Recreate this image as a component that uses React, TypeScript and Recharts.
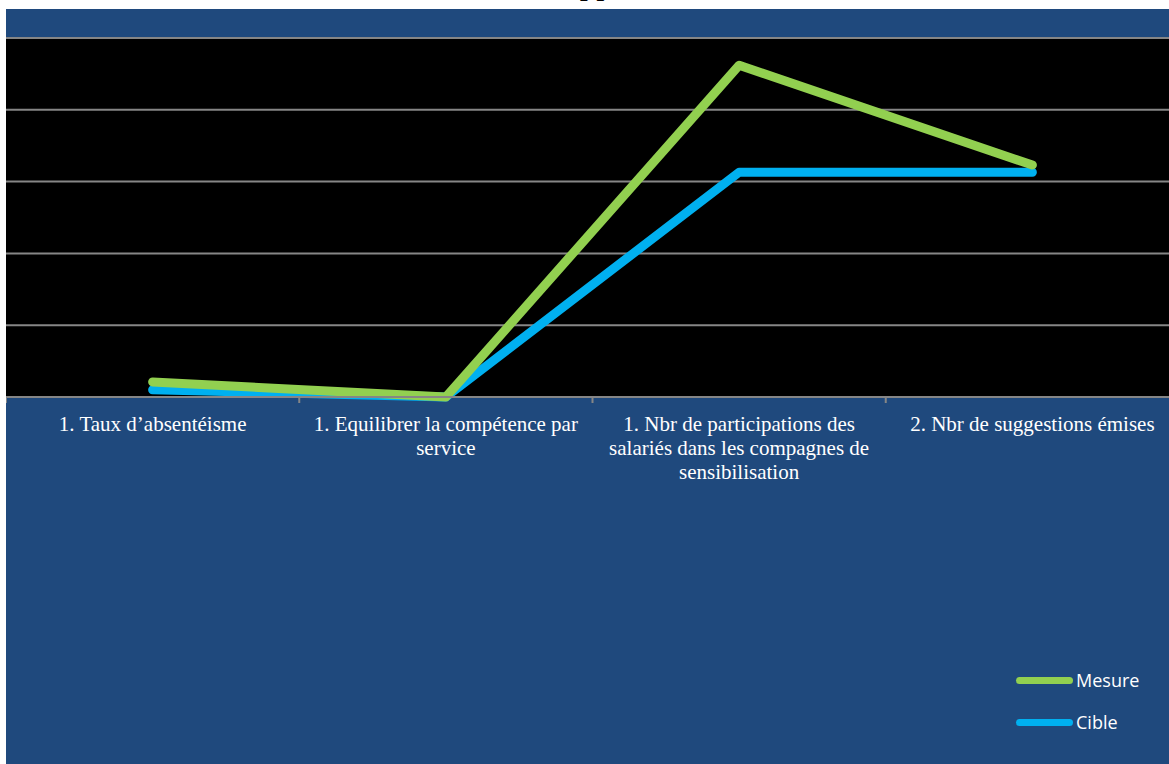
import { ComposedChart, Line, XAxis, YAxis, CartesianGrid } from 'recharts'

document.body.style.margin = '0'

const categories = [
    '1. Taux d\u2019absentéisme',
    '1. Equilibrer la compétence par service',
    '1. Nbr de participations des salariés dans les compagnes de sensibilisation',
    '2. Nbr de suggestions émises',
]
const mesure = [0.21, 0, 4.62, 3.23]
const cible = [0.1, 0, 3.13, 3.13]
const yTicks = [0, 1, 2, 3, 4, 5]

const data = categories.map((name, i) => ({ name, mesure: mesure[i], cible: cible[i] }))

const CHART_W = 1173
const BAND = CHART_W / categories.length
const LABEL_FONT = '21px "Liberation Serif"'

const series = [
    { key: 'mesure', label: 'Mesure', color: '#92D050' },
    { key: 'cible', label: 'Cible', color: '#00B0F0' },
]

// greedy word wrap measured on a canvas
const ctx = document.createElement('canvas').getContext('2d')!
function wrap(text: string, maxWidth: number) {
    ctx.font = LABEL_FONT
    const lines: string[] = []
    let cur = ''
    for (const w of text.split(' ')) {
        const next = cur ? cur + ' ' + w : w
        if (cur && ctx.measureText(next).width > maxWidth) {
            lines.push(cur)
            cur = w
        } else {
            cur = next
        }
    }
    if (cur) lines.push(cur)
    return lines
}

function CategoryTick({ x, y, payload }: any) {
    const lines = wrap(payload.value, 284)
    // y arrives below the default tick size + margin, pull marks back to the axis
    const axisY = y - 8
    return (
        <g>
            <line x1={x - BAND / 2} x2={x - BAND / 2} y1={axisY} y2={axisY + 6} stroke="#868686" strokeWidth={2} />
            <text
                x={x}
                textAnchor="middle"
                fill="#ffffff"
                fontFamily='"Liberation Serif", "Times New Roman", serif'
                fontSize={21}
            >
                {lines.map((l, i) => (
                    <tspan key={i} x={x} y={axisY + 34 + i * 24}>
                        {l}
                    </tspan>
                ))}
            </text>
        </g>
    )
}

function LegendBox() {
    return (
        <div
            style={{
                position: 'absolute',
                left: 1016,
                top: 659,
                fontFamily: '"Open Sans", sans-serif',
                fontSize: 18,
                color: '#ffffff',
            }}
        >
            {series.map((s) => (
                <div key={s.key} style={{ display: 'flex', alignItems: 'center', height: 42 }}>
                    <span style={{ display: 'inline-block', width: 57, height: 7, borderRadius: 4, background: s.color, marginRight: 3 }} />
                    <span>{s.label}</span>
                </div>
            ))}
        </div>
    )
}

export default function App() {
    return (
        <div style={{ position: 'relative', width: 1169, height: 764, overflow: 'hidden', background: '#ffffff' }}>
            <svg width={1169} height={9} style={{ position: 'absolute', left: 0, top: 0 }}>
                <text x={543} y={-6} fontFamily='"Liberation Serif", serif' fontSize={33} fill="#000">
                    Rapport
                </text>
            </svg>
            <div style={{ position: 'absolute', left: 6, top: 9, width: 1180, height: 755, background: '#1F497D' }}>
                <ComposedChart width={CHART_W} height={755} data={data} margin={{ top: 29, right: 0, bottom: 0, left: 0 }}>
                    <CartesianGrid vertical={false} fill="#000000" stroke="#868686" strokeWidth={2} />
                    <XAxis
                        dataKey="name"
                        height={367}
                        interval={0}
                        padding={{ left: BAND / 2, right: BAND / 2 }}
                        axisLine={{ stroke: '#868686', strokeWidth: 2 }}
                        tickLine={false}
                        tick={<CategoryTick />}
                    />
                    <YAxis hide domain={[0, 5]} ticks={yTicks} />
                    <Line
                        dataKey="cible"
                        stroke="#00B0F0"
                        strokeWidth={9}
                        strokeLinecap="round"
                        strokeLinejoin="round"
                        dot={false}
                        activeDot={false}
                        isAnimationActive={false}
                    />
                    <Line
                        dataKey="mesure"
                        stroke="#92D050"
                        strokeWidth={9}
                        strokeLinecap="round"
                        strokeLinejoin="round"
                        dot={false}
                        activeDot={false}
                        isAnimationActive={false}
                    />
                </ComposedChart>
            </div>
            <LegendBox />
        </div>
    )
}
